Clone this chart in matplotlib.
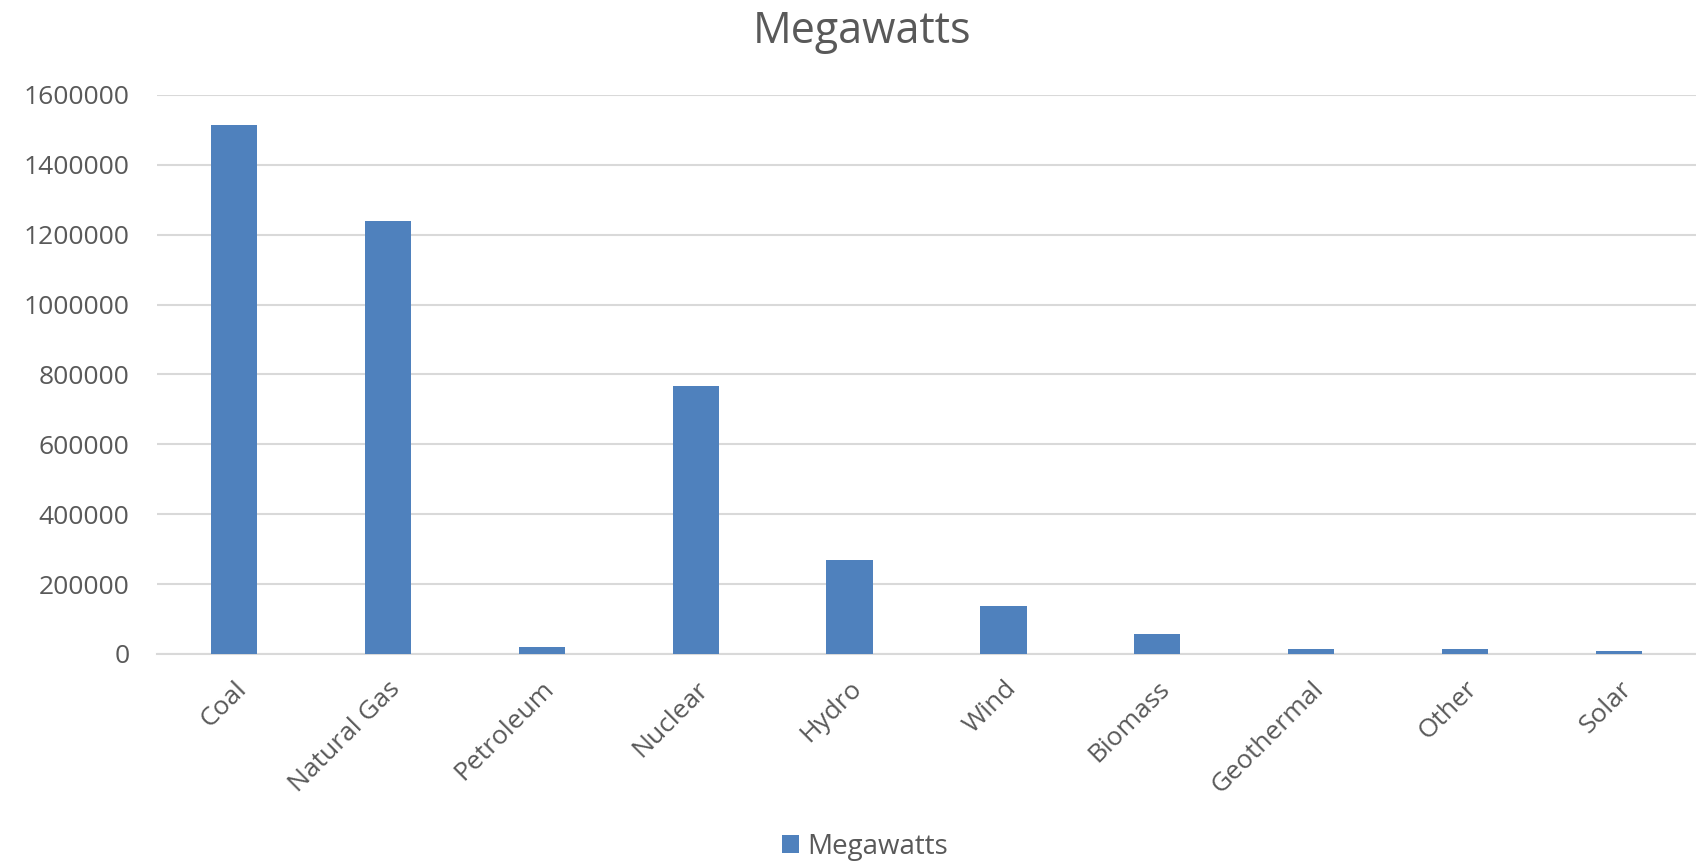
import numpy as np
import matplotlib.pyplot as plt

plt.rcParams['font.family'] = ['Open Sans', 'DejaVu Sans']

# data
categories = ['Coal', 'Natural Gas', 'Petroleum', 'Nuclear', 'Hydro',
              'Wind', 'Biomass', 'Geothermal', 'Other', 'Solar']
megawatts = [1513000, 1238000, 20000, 767000, 269000,
             136000, 56000, 15000, 14000, 9000]
yticks = [0, 200000, 400000, 600000, 800000, 1000000, 1200000, 1400000, 1600000]

bar_color = '#4f81bd'
text_color = '#595959'
grid_color = '#d9d9d9'

fig = plt.figure(figsize=(16.96, 8.63), dpi=100)
ax = fig.add_axes([0.0926, 0.2422, 0.9074, 0.6478])

x = np.arange(len(categories))
ax.bar(x, megawatts, width=0.3, color=bar_color, label='Megawatts', zorder=3)

ax.set_xlim(-0.5, len(categories) - 0.5)
ax.set_ylim(0, 1600000)
ax.set_yticks(yticks)
ax.set_yticklabels([str(v) for v in yticks])
ax.set_xticks(x)
ax.set_xticklabels(categories, rotation=45, ha='right', rotation_mode='anchor')

ax.grid(axis='y', color=grid_color, linewidth=1.5, zorder=0)
for s in ['top', 'right', 'left']:
    ax.spines[s].set_visible(False)
ax.spines['bottom'].set_color(grid_color)
ax.spines['bottom'].set_linewidth(1.5)
ax.tick_params(axis='both', length=0, labelsize=19, labelcolor=text_color)
ax.tick_params(axis='y', pad=20)
ax.tick_params(axis='x', pad=16)

fig.text(0.508, 0.963, 'Megawatts', ha='center', va='center', fontsize=31, color=text_color)

leg = fig.legend(loc='center', frameon=False,
                 fontsize=20, handlelength=0.6, handleheight=0.6, handletextpad=0.3)
leg.set_bbox_to_anchor((0.51, 0.019), transform=fig.transFigure)
for t in leg.get_texts():
    t.set_color(text_color)

plt.savefig('out.png', dpi=100)
